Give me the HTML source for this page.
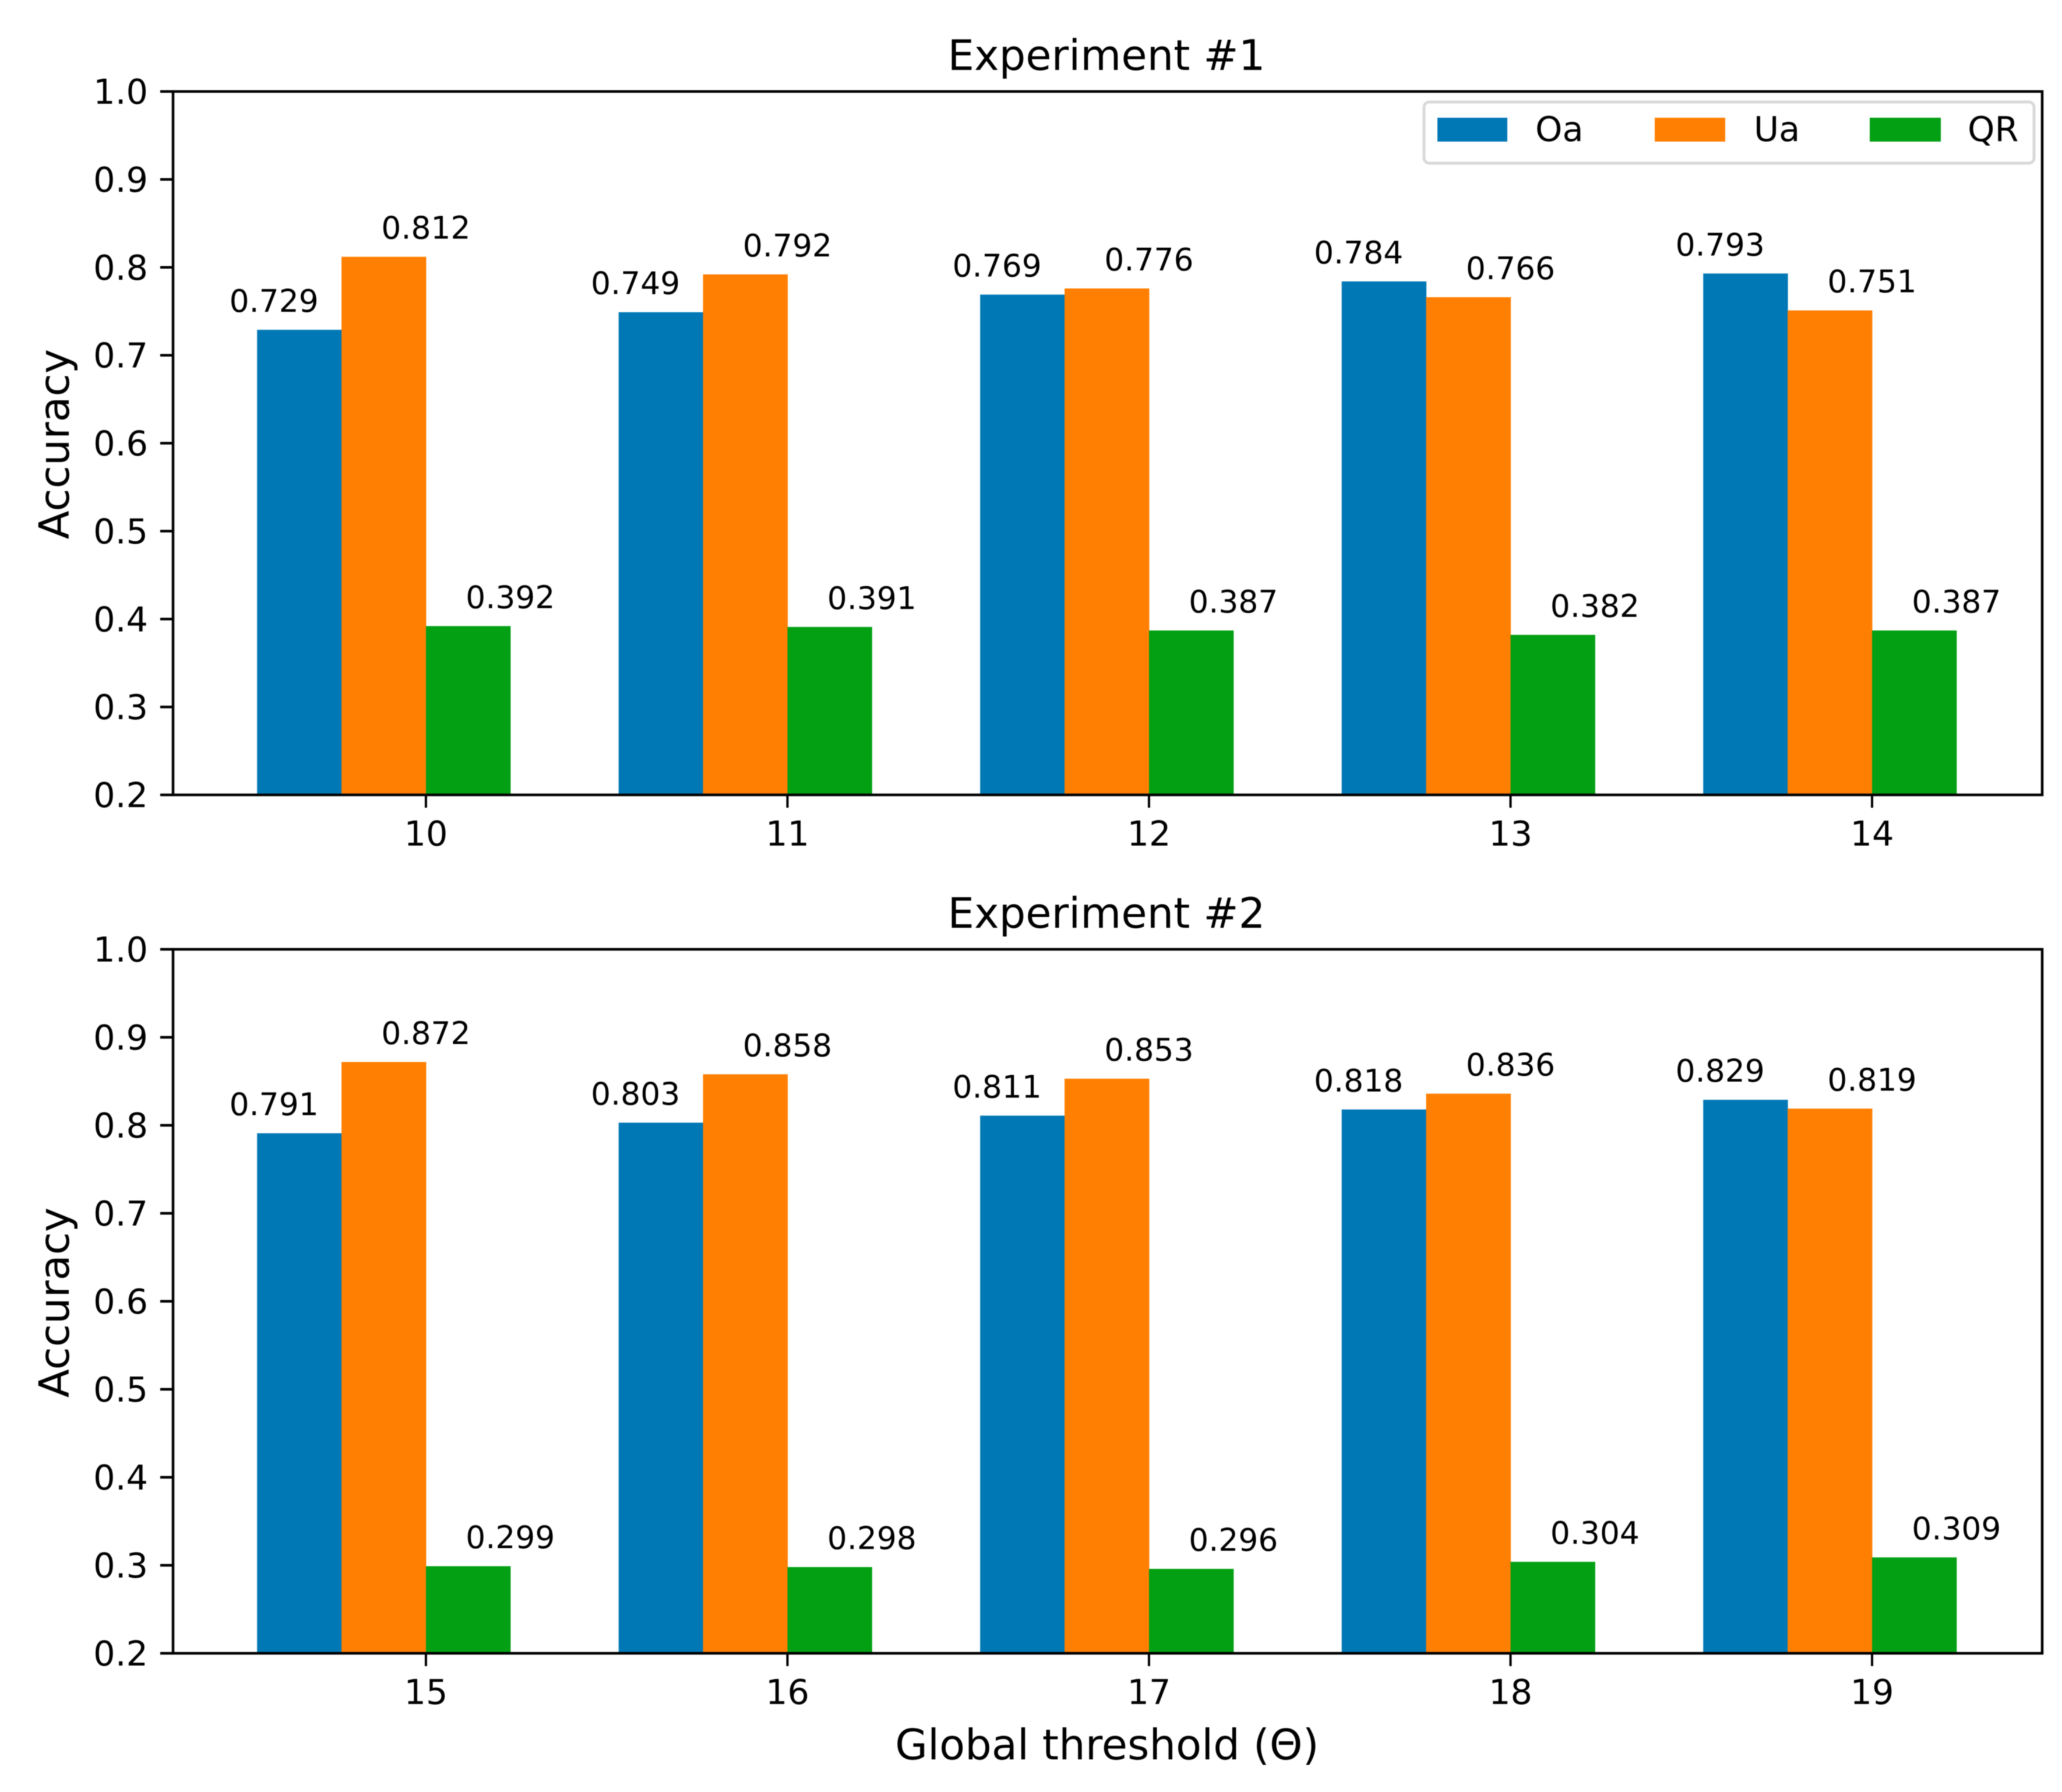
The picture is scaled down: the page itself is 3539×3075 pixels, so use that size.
<!DOCTYPE html>
<html lang="en">
<head>
<meta charset="utf-8">
<title>Accuracy by global threshold</title>
<style>
html,body{margin:0;padding:0;background:#fff;}
body{width:3539px;height:3075px;overflow:hidden;}
svg{display:block;filter:blur(0.9px);}
text{font-family:"DejaVu Sans","Liberation Sans",sans-serif;fill:#000;}
</style>
</head>
<body>
<svg id="chart" xmlns="http://www.w3.org/2000/svg" width="3539" height="3075" viewBox="0 0 3539 3075">
  <rect x="0" y="0" width="3539" height="3075" fill="#ffffff"></rect>
  <g id="panel-1"></g>
  <g id="panel-2"></g>
  <text x="1899" y="120" font-size="72" text-anchor="middle">Experiment #1</text>
  <text x="1899" y="1592" font-size="72" text-anchor="middle">Experiment #2</text>
  <text transform="translate(118 762) rotate(-90)" font-size="71.5" text-anchor="middle">Accuracy</text>
  <text transform="translate(118 2235) rotate(-90)" font-size="71.5" text-anchor="middle">Accuracy</text>
  <text x="1900" y="3019" font-size="72" text-anchor="middle">Global threshold (Θ)</text>
  <g>
    <rect x="2444" y="175" width="1047" height="105" rx="9" ry="9" fill="#ffffff" stroke="#d9d9d9" stroke-width="5"></rect>
    <rect x="2467" y="202" width="120" height="41" fill="#0178b6"></rect>
    <text x="2635" y="242" font-size="59">Oa</text>
    <rect x="2840" y="202" width="121" height="41" fill="#ff7f02"></rect>
    <text x="3010" y="242" font-size="59">Ua</text>
    <rect x="3209" y="202" width="122" height="41" fill="#03a014"></rect>
    <text x="3377" y="242" font-size="59">QR</text>
  </g>
</svg>
<script>
const exp1Categories = [10, 11, 12, 13, 14];
const exp1Oa = [0.729, 0.749, 0.769, 0.784, 0.793];
const exp1Ua = [0.812, 0.792, 0.776, 0.766, 0.751];
const exp1QR = [0.392, 0.391, 0.387, 0.382, 0.387];

const exp2Categories = [15, 16, 17, 18, 19];
const exp2Oa = [0.791, 0.803, 0.811, 0.818, 0.829];
const exp2Ua = [0.872, 0.858, 0.853, 0.836, 0.819];
const exp2QR = [0.299, 0.298, 0.296, 0.304, 0.309];

const yTickValues = [0.2, 0.3, 0.4, 0.5, 0.6, 0.7, 0.8, 0.9, 1.0];

const SVG_NS = 'http://www.w3.org/2000/svg';
const AXIS_LEFT = 297;
const AXIS_RIGHT = 3505;
const Y_MIN = 0.2;
const Y_MAX = 1.0;
const GROUP_START = 731;
const GROUP_STEP = 620.5;
const BAR_WIDTH = 0.2335;

function makeSvg(tag, attrs) {
  const el = document.createElementNS(SVG_NS, tag);
  Object.keys(attrs).forEach(function (k) { el.setAttribute(k, attrs[k]); });
  return el;
}

function xScale(index) {
  return GROUP_START + GROUP_STEP * index;
}

function yScaleFor(top, bottom) {
  return function (v) {
    return bottom - (v - Y_MIN) / (Y_MAX - Y_MIN) * (bottom - top);
  };
}

function drawSeries(group, categories, values, seriesKey, color, barOffset, labelOffset, yScale, bottom) {
  const w = BAR_WIDTH * GROUP_STEP;
  values.forEach(function (v, i) {
    const cx = xScale(i);
    const bar = makeSvg('rect', {
      x: cx + barOffset * w - w / 2,
      y: yScale(v),
      width: w + 0.5,
      height: bottom - yScale(v),
      fill: color
    });
    
    
    group.appendChild(bar);

    const label = makeSvg('text', {
      x: cx + labelOffset * w,
      y: yScale(v) - 31,
      'font-size': 53.5,
      'text-anchor': 'middle'
    });
    label.textContent = v.toFixed(3);
    
    
    group.appendChild(label);
  });
}

function drawPanel(group, top, bottom, categories, oa, ua, qr) {
  const yScale = yScaleFor(top, bottom);

  drawSeries(group, categories, oa, 'oa', '#0178b6', -1.5, -1.8, yScale, bottom);
  drawSeries(group, categories, ua, 'ua', '#ff7f02', -0.5, 0, yScale, bottom);
  drawSeries(group, categories, qr, 'qr', '#03a014', 0.5, 1, yScale, bottom);

  yTickValues.forEach(function (v) {
    const tick = makeSvg('line', {
      x1: AXIS_LEFT - 22, x2: AXIS_LEFT,
      y1: yScale(v), y2: yScale(v),
      stroke: '#000', 'stroke-width': 4.5
    });
    
    
    group.appendChild(tick);

    const label = makeSvg('text', {
      x: 254,
      y: yScale(v) + 21,
      'font-size': 59,
      'text-anchor': 'end'
    });
    label.textContent = v.toFixed(1);
    
    
    group.appendChild(label);
  });

  categories.forEach(function (c, i) {
    const tick = makeSvg('line', {
      x1: xScale(i), x2: xScale(i),
      y1: bottom, y2: bottom + 22,
      stroke: '#000', 'stroke-width': 4
    });
    
    
    group.appendChild(tick);

    const label = makeSvg('text', {
      x: xScale(i),
      y: bottom + 87,
      'font-size': 59,
      'text-anchor': 'middle'
    });
    label.textContent = String(c);
    
    
    group.appendChild(label);
  });

  const frame = makeSvg('rect', {
    x: AXIS_LEFT,
    y: top,
    width: AXIS_RIGHT - AXIS_LEFT,
    height: bottom - top,
    fill: 'none',
    stroke: '#000',
    'stroke-width': 4.5
  });
  
  
  group.appendChild(frame);
}

drawPanel(document.getElementById('panel-1'), 157, 1364, exp1Categories, exp1Oa, exp1Ua, exp1QR);
drawPanel(document.getElementById('panel-2'), 1629, 2837, exp2Categories, exp2Oa, exp2Ua, exp2QR);
</script>
</body>
</html>
